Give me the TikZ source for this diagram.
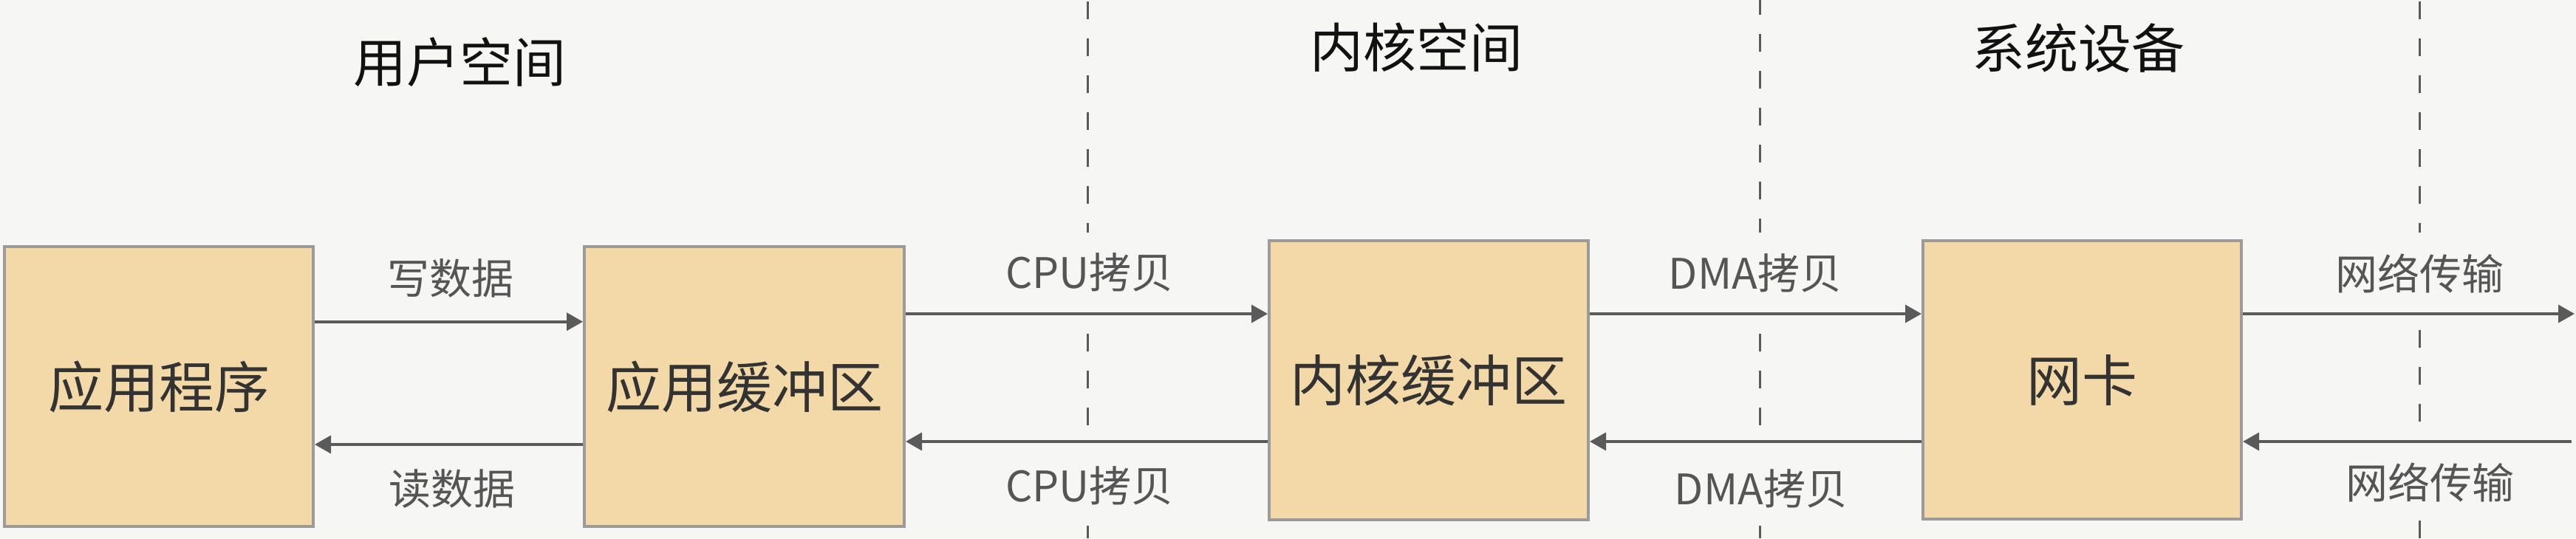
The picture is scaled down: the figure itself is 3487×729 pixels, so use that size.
\documentclass[tikz,border=0pt]{standalone}
\usepackage{fontspec}
\newfontfamily\cjk{Noto Sans CJK SC}
\usetikzlibrary{arrows.meta}
\definecolor{bgc}{HTML}{F6F6F4}
\definecolor{boxfill}{HTML}{F4D9A8}
\definecolor{boxline}{HTML}{9B9B9B}
\definecolor{arrc}{HTML}{5A5A5A}
\definecolor{lblc}{HTML}{555555}
\definecolor{boxtxt}{HTML}{333333}
\definecolor{ttl}{HTML}{111111}
\definecolor{dashc}{HTML}{5A5A5A}
\begin{document}
\begin{tikzpicture}[x=1pt,y=-1pt,
  box/.style={draw=boxline, line width=4pt, fill=boxfill, inner sep=0pt,
    text=boxtxt, font=\cjk\fontsize{75}{80}\selectfont},
  lbl/.style={inner sep=0pt, text=lblc, font=\cjk\fontsize{57}{60}\selectfont},
  ttlnode/.style={inner sep=0pt, text=ttl, font=\cjk\fontsize{72}{76}\selectfont},
  arr/.style={draw=arrc, line width=3.6pt, -{Triangle[length=22pt,width=24pt]}},
  sep/.style={draw=dashc, line width=3pt, dash pattern=on 24pt off 26pt}]
\fill[bgc] (0,0) rectangle (3487,729);
\useasboundingbox (0,0) rectangle (3487,729);

% separators (hidden behind the labels)
\draw[sep] (1472.6,1.7) -- (1472.6,315);
\draw[sep] (1472.6,451.7) -- (1472.6,576.7);
\draw[sep] (1472.6,711.7) -- (1472.6,729);
\draw[sep] (2382.5,-4.3) -- (2382.5,315);
\draw[sep] (2382.5,451.7) -- (2382.5,576.7);
\draw[sep] (2382.5,711.7) -- (2382.5,729);
\draw[sep] (3275,1.7) -- (3275,315);
\draw[sep] (3275,446.7) -- (3275,571.7);
\draw[sep] (3275,705) -- (3275,729);

% titles
\node[ttlnode] (t1) at (622,84) {用户空间};
\node[ttlnode] (t2) at (1917,64) {内核空间};
\node[ttlnode] (t3) at (2813,65) {系统设备};

% boxes
\node[box, minimum width=418pt, minimum height=379pt] (app) at (215,523.5) {应用程序};
\node[box, minimum width=433pt, minimum height=379pt] (abuf) at (1007.5,523.5) {应用缓冲区};
\node[box, minimum width=432pt, minimum height=378pt] (kbuf) at (1934,515) {内核缓冲区};
\node[box, minimum width=431pt, minimum height=377pt] (nic) at (2818.5,514.5) {网卡};

% arrow levels
\coordinate (y1) at (0,435.7);
\coordinate (y2) at (0,602);
\coordinate (y3) at (0,425);
\coordinate (y4) at (0,598);
\coordinate (netout) at (3485,425);
\coordinate (netin) at (3481,598);

\draw[arr] (app.east |- y1) -- (abuf.west |- y1);
\draw[arr] (abuf.west |- y2) -- (app.east |- y2);
\draw[arr] (abuf.east |- y3) -- (kbuf.west |- y3);
\draw[arr] (kbuf.west |- y4) -- (abuf.east |- y4);
\draw[arr] (kbuf.east |- y3) -- (nic.west |- y3);
\draw[arr] (nic.west |- y4) -- (kbuf.east |- y4);
\draw[arr] (nic.east |- y3) -- (netout);
\draw[arr] (netin) -- (nic.east |- y4);

% labels
\node[lbl] (lw) at (610,377) {写数据};
\node[lbl] (lr) at (612,662) {读数据};
\node[lbl] (lc1) at (1475,369) {CPU拷贝};
\node[lbl] (lc2) at (1475,658) {CPU拷贝};
\node[lbl] (ld1) at (2376,370) {DMA拷贝};
\node[lbl] (ld2) at (2384,662) {DMA拷贝};
\node[lbl] (ln1) at (3275,370) {网络传输};
\node[lbl] (ln2) at (3289,653) {网络传输};
\end{tikzpicture}
\end{document}
